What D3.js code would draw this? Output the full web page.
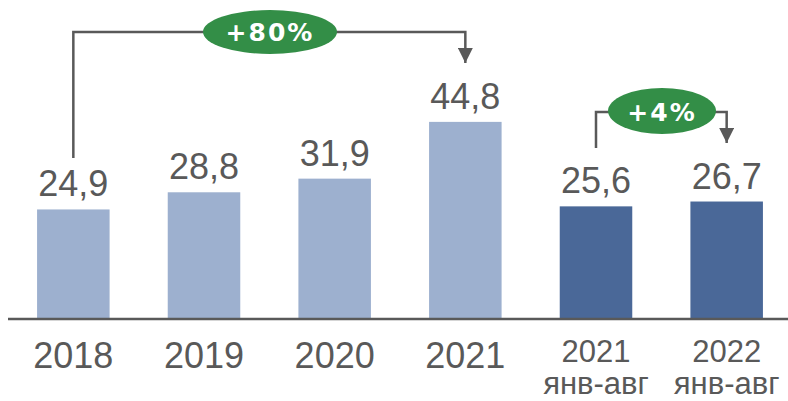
<!DOCTYPE html>
<html>
<head>
<meta charset="utf-8">
<script src="https://cdn.jsdelivr.net/npm/d3@7"></script>
<style>
  body { margin: 0; background: #fff; }
  svg { display: block; font-family: 'Liberation Sans', Arial, sans-serif; }
</style>
</head>
<body>
<div id="chart"></div>
<script>
// chart data
const categories = ['2018', '2019', '2020', '2021', '2021 янв-авг', '2022 янв-авг'];
const values = [24.9, 28.8, 31.9, 44.8, 25.6, 26.7];
const partial = [false, false, false, false, true, true];

// growth brackets: from category index -> to category index
const growthLabels = ['+80%', '+4%'];
const growthFrom = [0, 4];
const growthTo = [3, 5];

const width = 788;
const height = 401;
const baseline = 319;

const svg = d3.select('#chart')
    .append('svg')
    .attr('width', width)
    .attr('height', height);

const x = d3.scaleBand()
    .domain(categories)
    .range([8, 792])
    .paddingInner(0.445)
    .paddingOuter(0.2225);

const y = d3.scaleLinear()
    .domain([0, 72.5])
    .range([baseline, 0]);

// bars
svg.append('g')
    .selectAll('rect')
    .data(categories)
    .join('rect')
    .attr('x', d => x(d))
    .attr('y', (d, i) => y(values[i]))
    .attr('width', x.bandwidth())
    .attr('height', (d, i) => baseline - y(values[i]))
    .attr('fill', (d, i) => partial[i] ? '#4a6898' : '#9db0cf');

// value labels
svg.append('g')
    .selectAll('text')
    .data(categories)
    .join('text')
    .attr('x', d => x(d) + x.bandwidth() / 2)
    .attr('y', (d, i) => y(values[i]) - 13)
    .attr('text-anchor', 'middle')
    .attr('font-size', 36)
    .attr('fill', '#595959')
    .text((d, i) => values[i].toFixed(1).replace('.', ','));

// x axis
const xAxis = svg.append('g')
    .attr('transform', `translate(0, ${baseline})`)
    .call(d3.axisBottom(x).tickSize(0).tickSizeOuter(0));

xAxis.select('.domain')
    .attr('d', 'M8,0H788')
    .attr('stroke', '#595959')
    .attr('stroke-width', 2.5);

xAxis.selectAll('.tick text')
    .attr('fill', '#595959')
    .attr('font-family', "'Liberation Sans', Arial, sans-serif")
    .each(function (d, i) {
        const t = d3.select(this).text('').attr('dy', null).attr('y', 0);
        const parts = d.split(' ');
        if (parts.length === 1) {
            t.attr('font-size', 36);
            t.append('tspan').attr('x', 0).attr('y', 49).text(parts[0]);
        } else {
            t.attr('font-size', 31);
            t.append('tspan').attr('x', 0).attr('y', 43).text(parts[0]);
            t.append('tspan').attr('x', 0).attr('y', 75).text(parts[1]);
        }
    });

// growth brackets
svg.append('defs').append('marker')
    .attr('id', 'arrow')
    .attr('viewBox', '0 0 10 10')
    .attr('refX', 10)
    .attr('refY', 5)
    .attr('markerUnits', 'userSpaceOnUse')
    .attr('markerWidth', 15)
    .attr('markerHeight', 15)
    .attr('orient', 'auto')
    .append('path')
    .attr('d', 'M0,0L10,5L0,10Z')
    .attr('fill', '#595959');

const bracketTop = [32, 112];
const bracketStart = [158, 148];
const arrowEnd = [63, 143];
const pillRx = [67, 54];
const pillRy = [22, 23];

growthLabels.forEach((label, k) => {
    const x1 = x(categories[growthFrom[k]]) + x.bandwidth() / 2;
    const x2 = x(categories[growthTo[k]]) + x.bandwidth() / 2;
    const yt = bracketTop[k];
    const g = svg.append('g');

    g.append('path')
        .attr('d', `M${x1},${bracketStart[k]}V${yt}H${x2}V${arrowEnd[k]}`)
        .attr('fill', 'none')
        .attr('stroke', '#595959')
        .attr('stroke-width', 2.5)
        .attr('marker-end', 'url(#arrow)');

    const cx = k === 0 ? 270 : 662;
    g.append('ellipse')
        .attr('cx', cx)
        .attr('cy', yt - (k === 0 ? 0 : 1))
        .attr('rx', pillRx[k])
        .attr('ry', pillRy[k])
        .attr('fill', '#338e47');

    g.append('text')
        .attr('x', cx)
        .attr('y', yt + 9)
        .attr('text-anchor', 'middle')
        .attr('font-family', 'Verdana, "DejaVu Sans", sans-serif')
        .attr('font-weight', 'bold')
        .attr('font-size', 25)
        .attr('letter-spacing', 2)
        .attr('fill', '#fff')
        .text(label);
});
</script>
</body>
</html>
